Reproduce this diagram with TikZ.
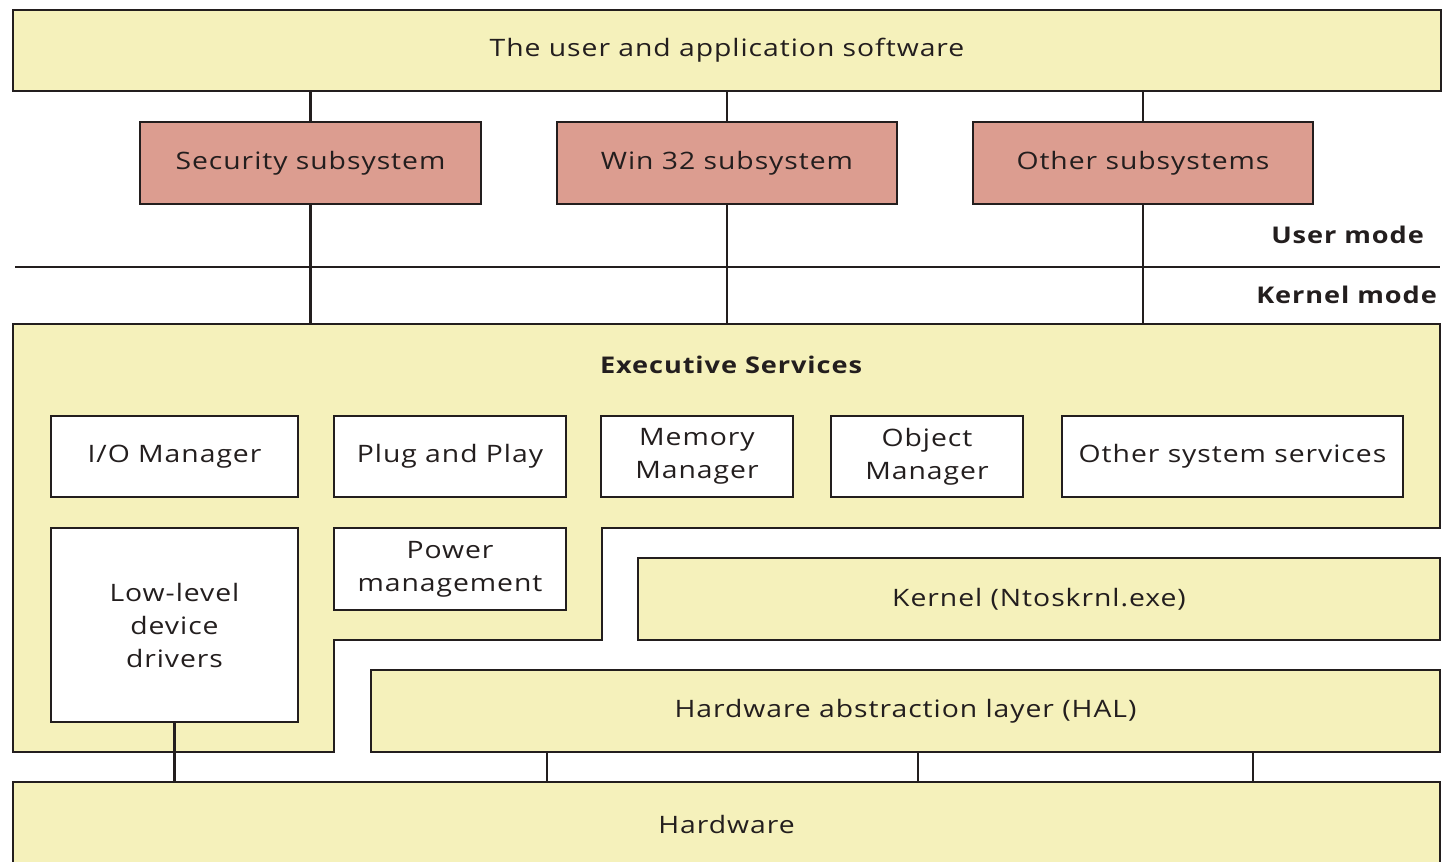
\documentclass[tikz,border=0pt]{standalone}
\usepackage{fontspec}
\setmainfont{Open Sans}[FakeStretch=1.18, LetterSpace=4]
\definecolor{layer}{RGB}{245,241,187}
\definecolor{subsys}{RGB}{220,157,144}
\definecolor{ink}{RGB}{35,30,30}
% box given by its corners: name, x1, y1, x2, y2, style, text
\newcommand\placebox[7]{%
  \node[#6, minimum width={(#4-#2)*1pt}, minimum height={(#5-#3)*1pt}]
    (#1) at ({(#2+#4)/2},{(#3+#5)/2}) {#7};}
\begin{document}
\begin{tikzpicture}[x=1pt,y=-1pt,
  blk/.style={draw=ink, line width=2.6pt, align=center, inner sep=0pt,
    text=ink, font=\fontsize{24}{33}\selectfont},
  layerbox/.style={blk, fill=layer},
  subbox/.style={blk, fill=subsys},
  svcbox/.style={blk, fill=white},
  wire/.style={line width=2.6pt, draw=ink},
  modelabel/.style={font=\fontsize{23}{28}\selectfont\bfseries, text=ink, anchor=east, inner sep=0pt}]
\clip (0,0) rectangle (1449,862);
\fill[white] (0,0) rectangle (1449,862);

% top layer and subsystems
\placebox{app}{13}{10}{1441}{91}{layerbox}{The user and application software}
\placebox{sec}{140}{122}{481}{204}{subbox}{Security subsystem}
\placebox{win}{557}{122}{897}{204}{subbox}{Win 32 subsystem}
\placebox{oth}{973}{122}{1313}{204}{subbox}{Other subsystems}

% user / kernel boundary
\coordinate (modeL) at (15,267);
\coordinate (modeR) at (1440,267);
\draw[line width=2.2pt, draw=ink] (modeL) -- (modeR);
\node[modelabel] (user) at (1424,235) {User mode};
\node[modelabel] (kern) at (1437,295) {Kernel mode};

% executive region
\coordinate (exectop) at (0,324);
\draw[wire, fill=layer] (13,324) -- (1440,324) -- (1440,528) -- (602,528)
  -- (602,640) -- (334,640) -- (334,752) -- (13,752) -- cycle;
\node[font=\fontsize{23}{28}\selectfont\bfseries, text=ink] (exec) at (731,365) {Executive Services};

\placebox{io}{51}{416}{298}{497}{svcbox}{I/O Manager}
\placebox{pnp}{334}{416}{566}{497}{svcbox}{Plug and Play}
\placebox{mem}{601}{416}{793}{497}{svcbox}{Memory\\Manager}
\placebox{obj}{831}{416}{1023}{497}{svcbox}{Object\\Manager}
\placebox{oss}{1062}{416}{1403}{497}{svcbox}{Other system services}
\placebox{lld}{51}{528}{298}{722}{svcbox}{Low-level\\device\\drivers}
\placebox{pwr}{334}{528}{566}{610}{svcbox}{Power\\management}

% kernel, HAL, hardware
\placebox{krn}{638}{558}{1440}{640}{layerbox}{Kernel (Ntoskrnl.exe)}
\placebox{hal}{371}{670}{1440}{752}{layerbox}{Hardware abstraction layer (HAL)}
\placebox{hw}{13}{782}{1440}{866}{layerbox}{Hardware}

% connectors
\foreach \s in {sec,win,oth}{
  \draw[wire] (\s.north) -- (\s.north |- app.south);
  \draw[wire] (\s.south) -- (\s.south |- exectop);
}
\draw[wire] (lld.south) -- (lld.south |- hw.north);
\coordinate (h1) at (547,0);
\coordinate (h2) at (918,0);
\coordinate (h3) at (1253,0);
\foreach \c in {h1,h2,h3}
  \draw[wire] (hal.south -| \c) -- (hw.north -| \c);
\end{tikzpicture}
\end{document}
